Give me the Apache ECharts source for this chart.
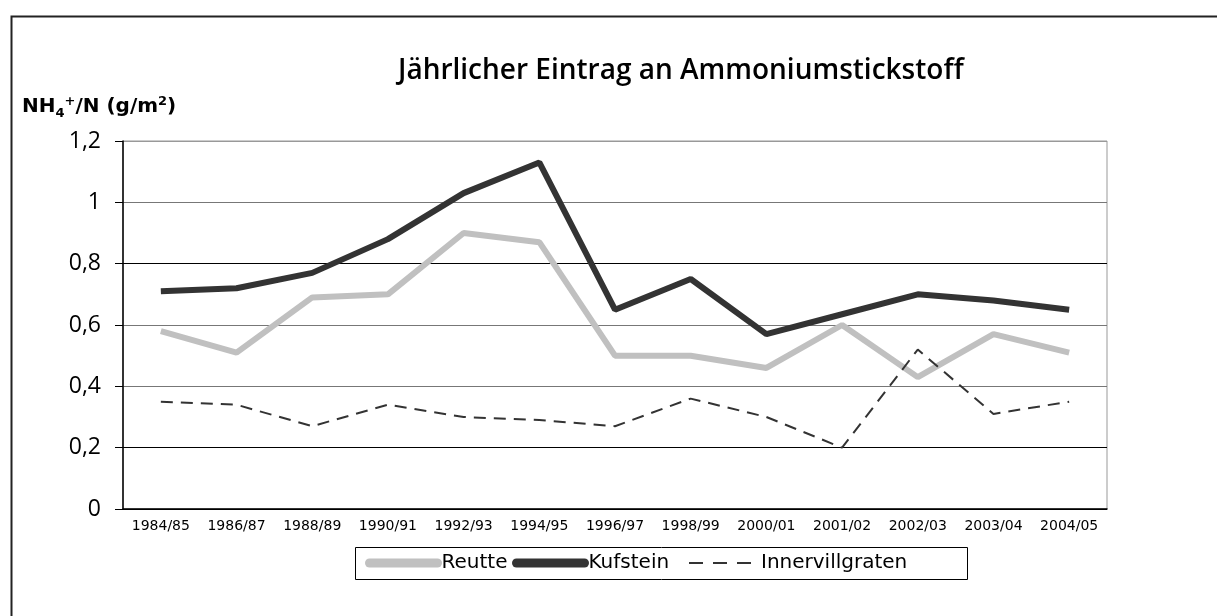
<!DOCTYPE html>
<html>
<head>
<meta charset="utf-8">
<script src="https://cdn.jsdelivr.net/npm/echarts@6/dist/echarts.min.js"></script>
<style>
  html, body { margin: 0; padding: 0; background: #fff; }
  #chart { width: 1217px; height: 616px; }
</style>
</head>
<body>
<div id="chart"></div>
<script>
// Jahre (Kategorien)
const years = ['1984/85', '1986/87', '1988/89', '1990/91', '1992/93', '1994/95', '1996/97',
  '1998/99', '2000/01', '2001/02', '2002/03', '2003/04', '2004/05']

// NH4+/N in g/m2
const reutte = [0.58, 0.51, 0.69, 0.70, 0.90, 0.87, 0.50, 0.50, 0.46, 0.60, 0.43, 0.57, 0.51]
const kufstein = [0.71, 0.72, 0.77, 0.88, 1.03, 1.13, 0.65, 0.75, 0.57, 0.635, 0.70, 0.68, 0.65]
const innervillgraten = [0.35, 0.34, 0.27, 0.34, 0.30, 0.29, 0.27, 0.36, 0.30, 0.20, 0.52, 0.31, 0.35]

const chart = echarts.init(document.getElementById('chart'))

// eine Legende pro Eintrag, damit die Abstände wie im Original passen
function legendAt(left, name, lineStyle) {
  return {
    left, top: 553, padding: 0,
    itemWidth: 68, itemHeight: 16,
    itemStyle: { opacity: 0 },
    textStyle: { fontFamily: 'DejaVu Sans', fontSize: 20, color: '#000', padding: [0, 0, 0, -1] },
    data: [{ name, lineStyle }]
  }
}

const option = {
  backgroundColor: '#fff',
  animation: false,
  title: {
    text: 'Jährlicher Eintrag an Ammoniumstickstoff',
    left: 393, top: 52,
    textStyle: { fontFamily: 'Open Sans', fontSize: 28, fontWeight: 600, color: '#000' }
  },
  graphic: [
    // äußerer Rahmen (rechts/unten außerhalb des Bildes)
    { type: 'rect', left: 9, top: 14, shape: { width: 1240, height: 640 },
      style: { fill: 'none', stroke: '#222', lineWidth: 2 }, silent: true },
    // Legendenrahmen
    { type: 'rect', left: 353, top: 545, shape: { width: 612, height: 32 },
      style: { fill: 'none', stroke: '#000', lineWidth: 1 }, silent: true },
    {
      type: 'text', left: 22, top: 95,
      style: {
        text: '{b|NH}{s|4}{p|+}{b|/N (g/m}{p|2}{b|)}',
        rich: {
          b: { fontFamily: 'DejaVu Sans', fontSize: 20, fontWeight: 'bold', fill: '#000' },
          s: { fontFamily: 'DejaVu Sans', fontSize: 13, fontWeight: 'bold', fill: '#000', padding: [13, 0, 0, 0] },
          p: { fontFamily: 'DejaVu Sans', fontSize: 13, fontWeight: 'bold', fill: '#000', padding: [0, 0, 11, 0] }
        }
      }
    }
  ],
  grid: {
    left: 123, right: 110, top: 141, bottom: 107,
    show: true, borderColor: '#999', borderWidth: 1, backgroundColor: '#fff'
  },
  legend: [
    legendAt(365, 'Reutte', { width: 9, color: '#c0c0c0', cap: 'round' }),
    legendAt(512, 'Kufstein', { width: 9, color: '#333', cap: 'round' }),
    legendAt(688, 'Innervillgraten', { width: 2, color: '#333', type: [14, 10] })
  ],
  xAxis: {
    type: 'category',
    data: years,
    axisLine: { lineStyle: { color: '#000', width: 1.5 } },
    axisTick: { length: 7, lineStyle: { color: '#000' } },
    axisLabel: { fontFamily: 'DejaVu Sans', fontSize: 14, color: '#000', margin: 10 },
    splitLine: { show: false }
  },
  yAxis: {
    type: 'value', min: 0, max: 1.2, interval: 0.2,
    axisLine: { show: true, lineStyle: { color: '#000', width: 1.5 } },
    axisTick: { show: true, length: 8, lineStyle: { color: '#000' } },
    axisLabel: {
      fontFamily: 'Open Sans', fontSize: 23, color: '#000', margin: 22,
      formatter: v => String(Math.round(v * 10) / 10).replace('.', ',')
    },
    splitLine: {
      lineStyle: { color: ['#000', '#000', '#777', '#777', '#000', '#777', '#999'], width: 1 }
    }
  },
  series: [
    {
      name: 'Reutte', type: 'line', data: reutte,
      showSymbol: false, symbol: 'none',
      lineStyle: { color: '#c0c0c0', width: 6 },
      itemStyle: { color: '#c0c0c0' }, z: 2
    },
    {
      name: 'Kufstein', type: 'line', data: kufstein,
      showSymbol: false, symbol: 'none',
      lineStyle: { color: '#333', width: 6 },
      itemStyle: { color: '#333' }, z: 3
    },
    {
      name: 'Innervillgraten', type: 'line', data: innervillgraten,
      showSymbol: false, symbol: 'none',
      lineStyle: { color: '#333', width: 2, type: [12, 8] },
      itemStyle: { color: '#333' }, z: 4
    }
  ]
}

chart.setOption(option)
window.addEventListener('resize', () => chart.resize())
</script>
</body>
</html>
